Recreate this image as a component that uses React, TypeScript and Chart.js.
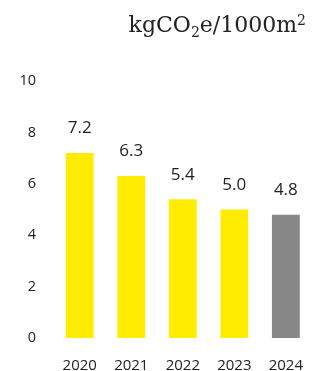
import React, { useEffect, useRef } from "react";
import { Chart, registerables } from "chart.js";

Chart.register(...registerables);

const years = ["2020", "2021", "2022", "2023", "2024"];
const values = [7.2, 6.3, 5.4, 5.0, 4.8];
const barColors = ["#FFEC00", "#FFEC00", "#FFEC00", "#FFEC00", "#878787"];
const yTicks = [0, 2, 4, 6, 8, 10];
// title pieces: [text, kind]
const titleParts: [string, string][] = [
  ["kgCO", "normal"],
  ["2", "sub"],
  ["e/1000m", "normal"],
  ["2", "sup"],
];

const valueLabels = {
  id: "valueLabels",
  afterDatasetsDraw(chart: any) {
    const ctx = chart.ctx;
    const meta = chart.getDatasetMeta(0);
    ctx.save();
    ctx.font = "17px 'Open Sans'";
    ctx.fillStyle = "#222";
    ctx.textAlign = "center";
    ctx.textBaseline = "bottom";
    meta.data.forEach((bar: any, i: number) => {
      ctx.fillText(values[i].toFixed(1), bar.x, bar.y - 16);
    });
    ctx.restore();
  },
};

const unitTitle = {
  id: "unitTitle",
  afterDraw(chart: any) {
    const ctx = chart.ctx;
    ctx.save();
    ctx.fillStyle = "#222";
    ctx.textBaseline = "alphabetic";
    ctx.textAlign = "left";
    const mainFont = "22px 'DejaVu Serif'";
    const smallFont = "14px 'DejaVu Serif'";
    const widths = titleParts.map(([t, k]) => {
      ctx.font = k === "normal" ? mainFont : smallFont;
      return ctx.measureText(t).width;
    });
    const total = widths.reduce((a, b) => a + b, 0);
    let x = chart.width - 17 - total;
    const base = 32;
    titleParts.forEach(([t, k], i) => {
      ctx.font = k === "normal" ? mainFont : smallFont;
      const y = k === "sub" ? base + 5 : k === "sup" ? base - 7 : base;
      ctx.fillText(t, x, y);
      x += widths[i];
    });
    ctx.restore();
  },
};

export default function App() {
  const ref = useRef<HTMLCanvasElement>(null);
  useEffect(() => {
    if (!ref.current) return;
    const chart = new Chart(ref.current, {
      type: "bar",
      data: {
        labels: years,
        datasets: [
          {
            data: values,
            backgroundColor: barColors,
            barPercentage: 0.54,
            categoryPercentage: 1,
          },
        ],
      },
      options: {
        responsive: false,
        animation: false,
        layout: { padding: { top: 81, right: 10, left: 0, bottom: 0 } },
        plugins: {
          legend: { display: false },
          tooltip: { enabled: false },
          title: { display: false },
        },
        scales: {
          x: {
            grid: { display: false, drawTicks: false },
            border: { display: false },
            ticks: {
              color: "#222",
              font: { family: "'Open Sans'", size: 15 },
              padding: 19,
            },
            afterFit(scale: any) {
              scale.height = 33;
            },
          },
          y: {
            min: 0,
            max: 10,
            afterBuildTicks(scale: any) {
              scale.ticks = yTicks.map((v) => ({ value: v }));
            },
            grid: { display: false, drawTicks: false },
            border: { display: false },
            ticks: {
              color: "#222",
              font: { family: "'Open Sans'", size: 14.5 },
              padding: 18,
            },
            afterFit(scale: any) {
              scale.width = 54;
            },
          },
        },
      },
      plugins: [valueLabels, unitTitle],
    });
    return () => chart.destroy();
  }, []);
  return (
    <canvas
      ref={ref}
      width={323}
      height={371}
      style={{ position: "fixed", left: 0, top: 0, width: 323, height: 371 }}
    />
  );
}
